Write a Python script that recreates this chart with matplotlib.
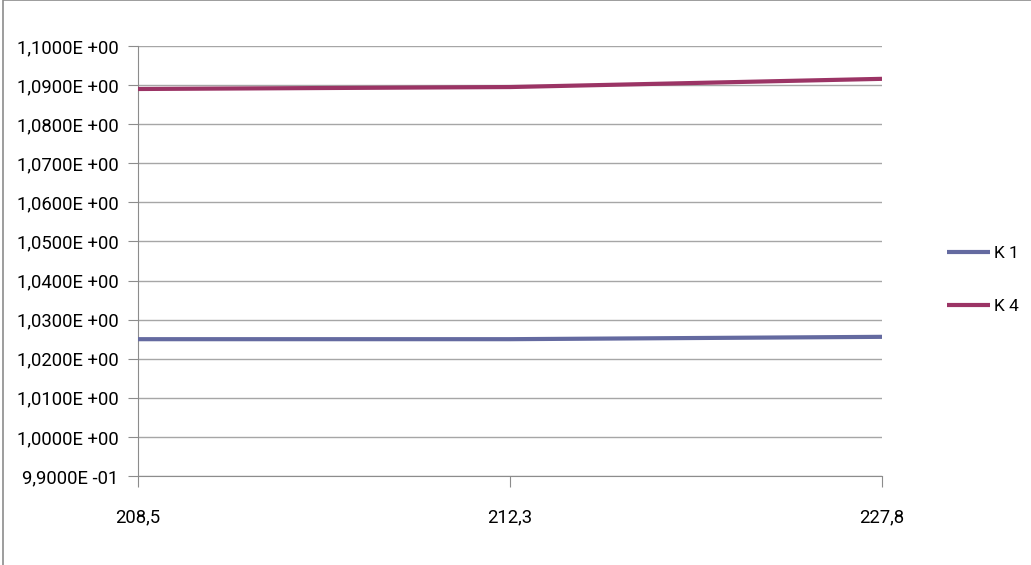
import matplotlib
matplotlib.use("Agg")
import matplotlib.pyplot as plt
from matplotlib.patches import Rectangle
from matplotlib.ticker import FuncFormatter, MultipleLocator
from matplotlib import font_manager

# Data
categories = ["208,5", "212,3", "227,8"]
k1_values = [1.0250, 1.0250, 1.0256]
k4_values = [1.0890, 1.0895, 1.0916]
series_names = ["K 1", "K 4"]

available = {f.name for f in font_manager.fontManager.ttflist}
family = [f for f in ["Roboto", "Open Sans", "DejaVu Sans"] if f in available]
plt.rcParams["font.family"] = family

W, H = 1031, 565
fig = plt.figure(figsize=(W / 100, H / 100), dpi=100)

# Chart area border (left and top edges visible)
fig.patches.append(Rectangle((3 / W, -0.1), 1.2, 1.1 - 0.5 / H, transform=fig.transFigure,
                             fill=False, edgecolor="#8C8C8C", linewidth=1.2))

left, right = 138 / W, 882 / W
bottom, top = (H - 476) / H, (H - 46) / H
ax = fig.add_axes([left, bottom, right - left, top - bottom])

x = list(range(len(categories)))
ax.plot(x, k1_values, color="#646AA0", linewidth=3.0, solid_capstyle="butt", label=series_names[0], zorder=3)
ax.plot(x, k4_values, color="#9B3465", linewidth=3.0, solid_capstyle="butt", label=series_names[1], zorder=3)

ax.set_xlim(0, len(categories) - 1)
ax.set_ylim(0.99, 1.10)
ax.yaxis.set_major_locator(MultipleLocator(0.01))


def sci_comma(v, pos):
    s = f"{v:.4E}"
    mant, exp = s.split("E")
    sign = exp[0]
    return f"{mant.replace('.', ',')}E {sign}{exp[1:]}"


ax.yaxis.set_major_formatter(FuncFormatter(sci_comma))
ax.set_xticks(x)
ax.set_xticklabels(categories)

ax.grid(axis="y", color="#A6A6A6", linewidth=1.0)
ax.set_axisbelow(True)
for s in ["top", "right"]:
    ax.spines[s].set_visible(False)
ax.spines["left"].set_color("#8C8C8C")
ax.spines["bottom"].set_color("#8C8C8C")
ax.tick_params(axis="y", direction="out", length=7, color="#8C8C8C", labelsize=13.3, pad=7)
ax.tick_params(axis="x", direction="out", length=8, color="#8C8C8C", labelsize=13.3, pad=15)

leg = fig.legend(loc="center left", bbox_to_anchor=(947 / W, (H - 280) / H), frameon=False,
                 fontsize=12.5, handlelength=2.5, handletextpad=0.2, labelspacing=2.15,
                 borderpad=0, borderaxespad=0)

fig.savefig("out.png", dpi=100)
